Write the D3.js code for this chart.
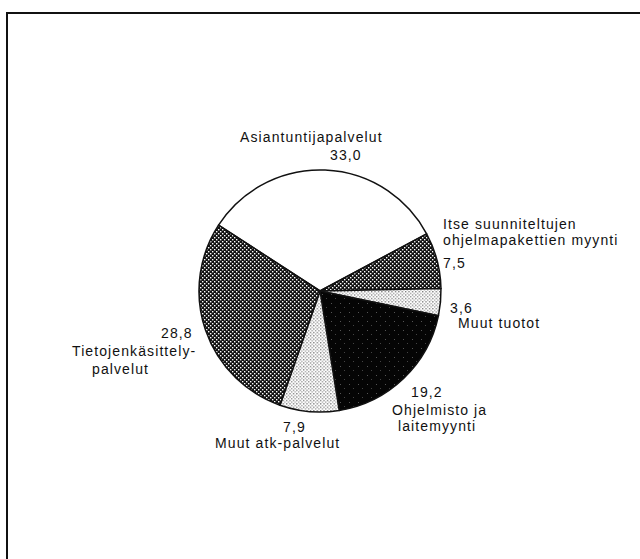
<!DOCTYPE html>
<html>
<head>
<meta charset="utf-8">
<script src="https://cdn.jsdelivr.net/npm/d3@7"></script>
<style>
  body { margin: 0; background: #fff; }
  text { font-family: "Liberation Sans", Arial, sans-serif; font-size: 14px; letter-spacing: 1.1px; fill: #111; }
</style>
</head>
<body>
<div id="plot"></div>
<script>
// data, clockwise from the top slice
var categories = ["Asiantuntijapalvelut", "Itse suunniteltujen ohjelmapakettien myynti", "Muut tuotot",
                  "Ohjelmisto ja laitemyynti", "Muut atk-palvelut", "Tietojenkäsittelypalvelut"];
var values = [33.0, 7.5, 3.6, 19.2, 7.9, 28.8];
var valueLabels = ["33,0", "7,5", "3,6", "19,2", "7,9", "28,8"];

var width = 640, height = 559;
var cx = 320, cy = 291, radius = 121;

var svg = d3.select("#plot").append("svg")
    .attr("width", width)
    .attr("height", height);

// frame (runs off the right and bottom edges like the scan)
svg.append("rect")
    .attr("x", 7).attr("y", 13)
    .attr("width", 660).attr("height", 580)
    .attr("fill", "none")
    .attr("stroke", "#111")
    .attr("stroke-width", 2);

// fill patterns
var defs = svg.append("defs");

var dense = defs.append("pattern").attr("id", "dense")
    .attr("width", 4).attr("height", 4).attr("patternUnits", "userSpaceOnUse");
dense.append("rect").attr("width", 4).attr("height", 4).attr("fill", "#111");
dense.append("rect").attr("width", 1.4).attr("height", 1.4).attr("fill", "#fff");
dense.append("rect").attr("x", 2).attr("y", 2).attr("width", 1.4).attr("height", 1.4).attr("fill", "#fff");

var light = defs.append("pattern").attr("id", "light")
    .attr("width", 3.4).attr("height", 3.4).attr("patternUnits", "userSpaceOnUse");
light.append("rect").attr("width", 3.4).attr("height", 3.4).attr("fill", "#fff");
light.append("rect").attr("width", 1.3).attr("height", 1.3).attr("fill", "#777");
light.append("rect").attr("x", 1.7).attr("y", 1.7).attr("width", 1.3).attr("height", 1.3).attr("fill", "#999");

var dark = defs.append("pattern").attr("id", "dark")
    .attr("width", 9).attr("height", 9).attr("patternUnits", "userSpaceOnUse");
dark.append("rect").attr("width", 9).attr("height", 9).attr("fill", "#050505");
dark.append("rect").attr("x", 2).attr("y", 3).attr("width", 1).attr("height", 1).attr("fill", "#555");
dark.append("rect").attr("x", 6).attr("y", 7).attr("width", 1).attr("height", 1).attr("fill", "#444");

var fills = ["#fff", "url(#dense)", "url(#light)", "url(#dark)", "url(#light)", "url(#dense)"];

var start = -57 * Math.PI / 180;
var pie = d3.pie().sort(null).startAngle(start).endAngle(start + 2 * Math.PI);
var arc = d3.arc().innerRadius(0).outerRadius(radius);

var g = svg.append("g").attr("transform", "translate(" + cx + "," + cy + ")");
g.selectAll("path")
    .data(pie(values))
    .enter().append("path")
    .attr("d", arc)
    .attr("fill", function(d, i) { return fills[i]; })
    .attr("stroke", "#111")
    .attr("stroke-width", 1.5)
    .attr("stroke-linejoin", "round");

// label text lines and where they sit (x, baseline y)
var labelLines = [
    [["Asiantuntijapalvelut", 240, 142], [valueLabels[0], 330, 160]],
    [["Itse suunniteltujen", 443, 229], ["ohjelmapakettien myynti", 443, 245], [valueLabels[1], 443, 268]],
    [[valueLabels[2], 450, 313], ["Muut tuotot", 458, 328]],
    [[valueLabels[3], 411, 397], ["Ohjelmisto ja", 392, 415], ["laitemyynti", 398, 431]],
    [[valueLabels[4], 283, 432], ["Muut atk-palvelut", 215, 448]],
    [[valueLabels[5], 161, 338], ["Tietojenkäsittely-", 72, 356], ["palvelut", 92, 374]]
];

labelLines.forEach(function(lines) {
    lines.forEach(function(l) {
        svg.append("text")
            .attr("x", l[1])
            .attr("y", l[2])
            .text(l[0]);
    });
});
</script>
</body>
</html>
